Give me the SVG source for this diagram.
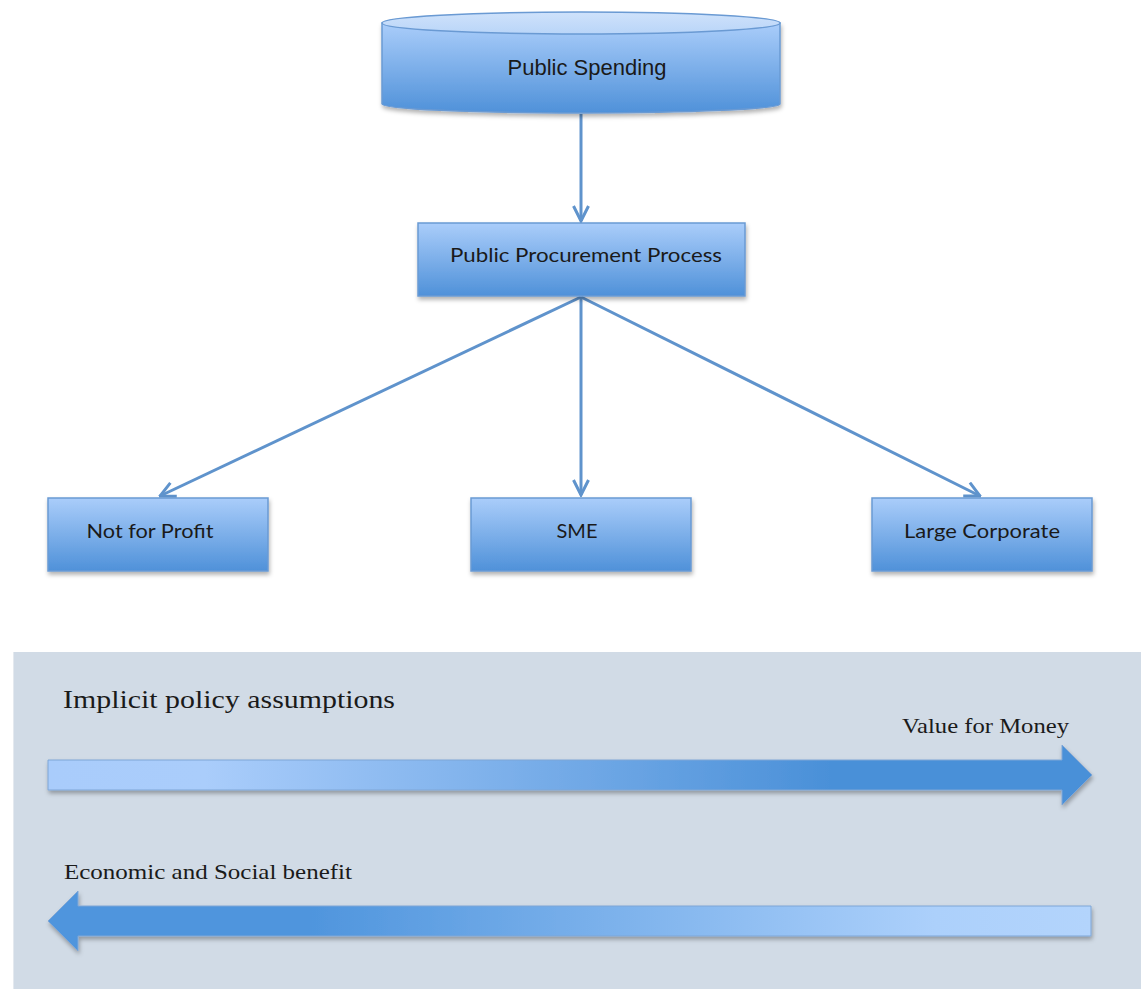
<svg xmlns="http://www.w3.org/2000/svg" width="1141" height="989" viewBox="0 0 1141 989">
<style>
.box{fill:url(#boxg);stroke:#6a9ad3;stroke-width:1.5;filter:url(#sh)}
.lbl{font-family:"Lato","Open Sans",sans-serif;font-size:20px;fill:#1a1a1a;text-anchor:middle}
.conn{stroke:#5f93cc;stroke-width:3;fill:none;marker-end:url(#chev)}
.ser{font-family:"Liberation Serif","DejaVu Serif",serif;fill:#1a1a1a}
</style>
<defs>
<linearGradient id="boxg" x1="0" y1="0" x2="0" y2="1">
<stop offset="0" stop-color="#aacdfa"/>
<stop offset="1" stop-color="#4f91d9"/>
</linearGradient>
<linearGradient id="topg" x1="0" y1="0" x2="0" y2="1">
<stop offset="0" stop-color="#cfe2fb"/>
<stop offset="1" stop-color="#b9d5f8"/>
</linearGradient>
<linearGradient id="rg" x1="0" y1="0" x2="1" y2="0">
<stop offset="0" stop-color="#a9ccfb"/>
<stop offset="0.15" stop-color="#aacdfb"/>
<stop offset="0.75" stop-color="#4a90d8"/>
<stop offset="1" stop-color="#4a90d8"/>
</linearGradient>
<linearGradient id="lg" x1="1" y1="0" x2="0" y2="0">
<stop offset="0" stop-color="#b3d4fc"/>
<stop offset="0.15" stop-color="#acd0fb"/>
<stop offset="0.75" stop-color="#4f95dd"/>
<stop offset="1" stop-color="#4f95dd"/>
</linearGradient>
<filter id="sh" x="-10%" y="-10%" width="120%" height="130%">
<feDropShadow dx="1" dy="3" stdDeviation="2" flood-color="#000" flood-opacity="0.3"/>
</filter>
<marker id="chev" viewBox="0 0 12 12" refX="11" refY="6" markerWidth="6" markerHeight="6" orient="auto" markerUnits="strokeWidth">
<path d="M1,1 L11,6 L1,11" fill="none" stroke="#5f93cc" stroke-width="2"/>
</marker>
</defs>
<rect width="1141" height="989" fill="#ffffff"/>
<g id="connectors">
<line class="conn" x1="581" y1="114" x2="581" y2="221"/>
<line class="conn" x1="581" y1="297" x2="160" y2="496"/>
<line class="conn" x1="581" y1="297" x2="581" y2="495"/>
<line class="conn" x1="581" y1="297" x2="980" y2="496"/>
</g>
<g id="public-spending">
<path d="M382,23 L382,104 A199,9 0 0 0 780,104 L780,23 Z" fill="url(#boxg)" stroke="#6a9ad3" stroke-width="1.5" filter="url(#sh)"/>
<ellipse cx="581" cy="23" rx="199" ry="11" fill="url(#topg)" stroke="#6a9ad3" stroke-width="1.5"/>
<text x="587" y="75" font-family="Liberation Sans, Arial, sans-serif" font-size="22" fill="#1a1a1a" text-anchor="middle">Public Spending</text>
</g>
<g id="procurement">
<rect class="box" x="418" y="223" width="327" height="73"/>
<text class="lbl" x="586" y="262" textLength="272" lengthAdjust="spacingAndGlyphs">Public Procurement Process</text>
</g>
<g id="not-for-profit">
<rect class="box" x="48" y="498" width="220" height="73"/>
<text class="lbl" x="150" y="538" textLength="127" lengthAdjust="spacingAndGlyphs">Not for Profit</text>
</g>
<g id="sme">
<rect class="box" x="471" y="498" width="220" height="73"/>
<text class="lbl" x="577" y="538">SME</text>
</g>
<g id="large-corporate">
<rect class="box" x="872" y="498" width="220" height="73"/>
<text class="lbl" x="982" y="538" textLength="156" lengthAdjust="spacingAndGlyphs">Large Corporate</text>
</g>
<g id="policy-panel">
<rect x="13" y="652" width="1128" height="337" fill="#d1dbe6"/>
<line x1="13.5" y1="652" x2="13.5" y2="989" stroke="#e4e9ef" stroke-width="1"/>
<text class="ser" x="63" y="708" font-size="25" textLength="332" lengthAdjust="spacingAndGlyphs">Implicit policy assumptions</text>
<text class="ser" x="1069" y="733" font-size="21" text-anchor="end" textLength="167" lengthAdjust="spacingAndGlyphs">Value for Money</text>
<path d="M48,760 L1062,760 L1062,745 L1092,775 L1062,805 L1062,790 L48,790 Z" fill="url(#rg)" stroke="#7ea6d6" stroke-width="1" filter="url(#sh)"/>
<text class="ser" x="64" y="879" font-size="21" textLength="288" lengthAdjust="spacingAndGlyphs">Economic and Social benefit</text>
<path d="M1091,906 L78,906 L78,891 L48,921 L78,951 L78,936 L1091,936 Z" fill="url(#lg)" stroke="#7ea6d6" stroke-width="1" filter="url(#sh)"/>
</g>
</svg>
